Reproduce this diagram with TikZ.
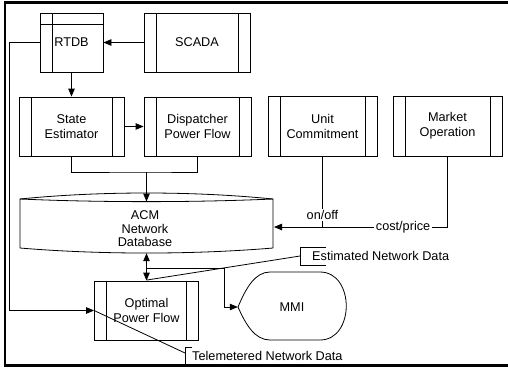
\documentclass[tikz,border=0pt]{standalone}
\usepackage{fontspec}
\setmainfont{Liberation Sans}
\usetikzlibrary{arrows.meta}
\newcommand\diagfont{\fontsize{12.7}{15}\selectfont}
\tikzset{
  base/.style={line width=0.8pt},
  arr/.style={base, -{Triangle[length=8pt,width=6.5pt]}},
  dblarr/.style={base, {Triangle[length=8pt,width=6.5pt]}-{Triangle[length=8pt,width=6.5pt]}},
  txt/.style={font=\diagfont, align=center, inner sep=1pt},
  proc/.style={draw, base, txt, inner sep=2pt,
    path picture={
      \draw[base] ([xshift=12pt]path picture bounding box.north west) -- ([xshift=12pt]path picture bounding box.south west);
      \draw[base] ([xshift=-12pt]path picture bounding box.north east) -- ([xshift=-12pt]path picture bounding box.south east);
    }},
  store/.style={draw, base, txt, inner sep=2pt,
    path picture={
      \draw[base] ([yshift=-11pt]path picture bounding box.north west) -- ([yshift=-11pt]path picture bounding box.north east);
      \draw[base] ([xshift=12pt]path picture bounding box.north west) -- ([xshift=12pt]path picture bounding box.south west);
    }},
  tag/.style={txt, fill=white, inner sep=1.5pt},
}
\begin{document}
\begin{tikzpicture}[x=1pt, y=-1pt]
  \useasboundingbox (0,0) rectangle (508,368);
  % outer frame
  \draw[line width=2.2pt] (508,2.5) -- (5,2.5) -- (5,365.5) -- (508,365.5);

  % process blocks
  \node[store, minimum width=63pt,  minimum height=59pt] (rtdb)  at (71.5,42.5) {RTDB};
  \node[proc,  minimum width=106pt, minimum height=59pt] (scada) at (197,42.5)  {SCADA};
  \node[proc,  minimum width=105pt, minimum height=59pt] (se)    at (71.5,126.5) {State\\Estimator};
  \node[proc,  minimum width=107pt, minimum height=59pt] (dpf)   at (197.5,126.5) {Dispatcher\\Power Flow};
  \node[proc,  minimum width=109pt, minimum height=60pt] (uc)    at (322.5,126) {Unit\\Commitment};
  \node[proc,  minimum width=109pt, minimum height=60pt] (mo)    at (447.5,126) {Market\\Operation};
  \node[proc,  minimum width=104pt, minimum height=59pt] (opf)   at (146.5,310.5) {Optimal\\Power Flow};

  % network database (horizontal drum)
  \draw[base] (20,199) .. controls (100,191) and (193,191) .. (273,199)
              -- (273,248) .. controls (193,254.7) and (100,254.7) .. (20,248) -- cycle;
  \draw[base] (20,199) .. controls (100,202.5) and (193,202.5) .. (273,199);
  \node[minimum width=253pt, minimum height=60pt] (db) at (146.5,223) {};
  \node[txt, font=\fontsize{12.7}{13.5}\selectfont] (dblabel) at (145,229) {ACM\\Network\\Database};

  % MMI display
  \draw[base] (238,307) .. controls (246,288) and (255,272) .. (270,272) -- (320,272)
              .. controls (355,272) and (355,340) .. (320,340) -- (270,340)
              .. controls (255,340) and (246,325) .. (238,307) -- cycle;
  \node[txt, minimum width=108pt, minimum height=68pt] (mmi) at (292,307) {MMI};

  % connectors
  \draw[arr] (scada) -- (rtdb);
  \draw[arr] (rtdb) -- (se);
  \draw[arr] (se) -- (dpf);
  \coordinate (join) at (146.5,172);
  \coordinate (dbtop) at (146.5,201.5);
  \draw[base] (se.south) |- (join) -| (dpf.south);
  \draw[arr] (join) -- (dbtop);
  \draw[arr] (rtdb.west) -- ++(-30,0) |- (opf.west);

  \coordinate (dbright) at (274,227);
  \draw[base] (uc.south) -- (uc.south |- dbright) node[tag, pos=0.83] {on/off};
  \draw[arr] (mo.south) |- (dbright) node[tag, pos=0.628] {cost/price};

  \draw[dblarr] (db.south) -- (opf.north);
  \coordinate (tap) at (146.5,268);
  \draw[arr] (tap) -| ([xshift=-13pt]mmi.west) -- (mmi.west);

  % annotations
  \node[txt, anchor=west, inner xsep=12pt] (est) at (300,256) {Estimated Network Data};
  \draw[base] ([xshift=26pt,yshift=9pt]est.west) -- ([yshift=9pt]est.west)
              -- ([yshift=-9pt]est.west) -- ([xshift=26pt,yshift=-9pt]est.west);
  \coordinate (opfdata) at (147,280);
  \draw[base] (opfdata) -- (est.west);

  \node[txt, anchor=west, inner xsep=7pt] (tel) at (185,356) {Telemetered Network Data};
  \draw[base] ([xshift=7pt,yshift=9pt]tel.west) -- ([yshift=9pt]tel.west) -- ([yshift=-9pt]tel.west);
  \draw[base] (opf.west) -- ([yshift=3pt]tel.west);
\end{tikzpicture}
\end{document}
